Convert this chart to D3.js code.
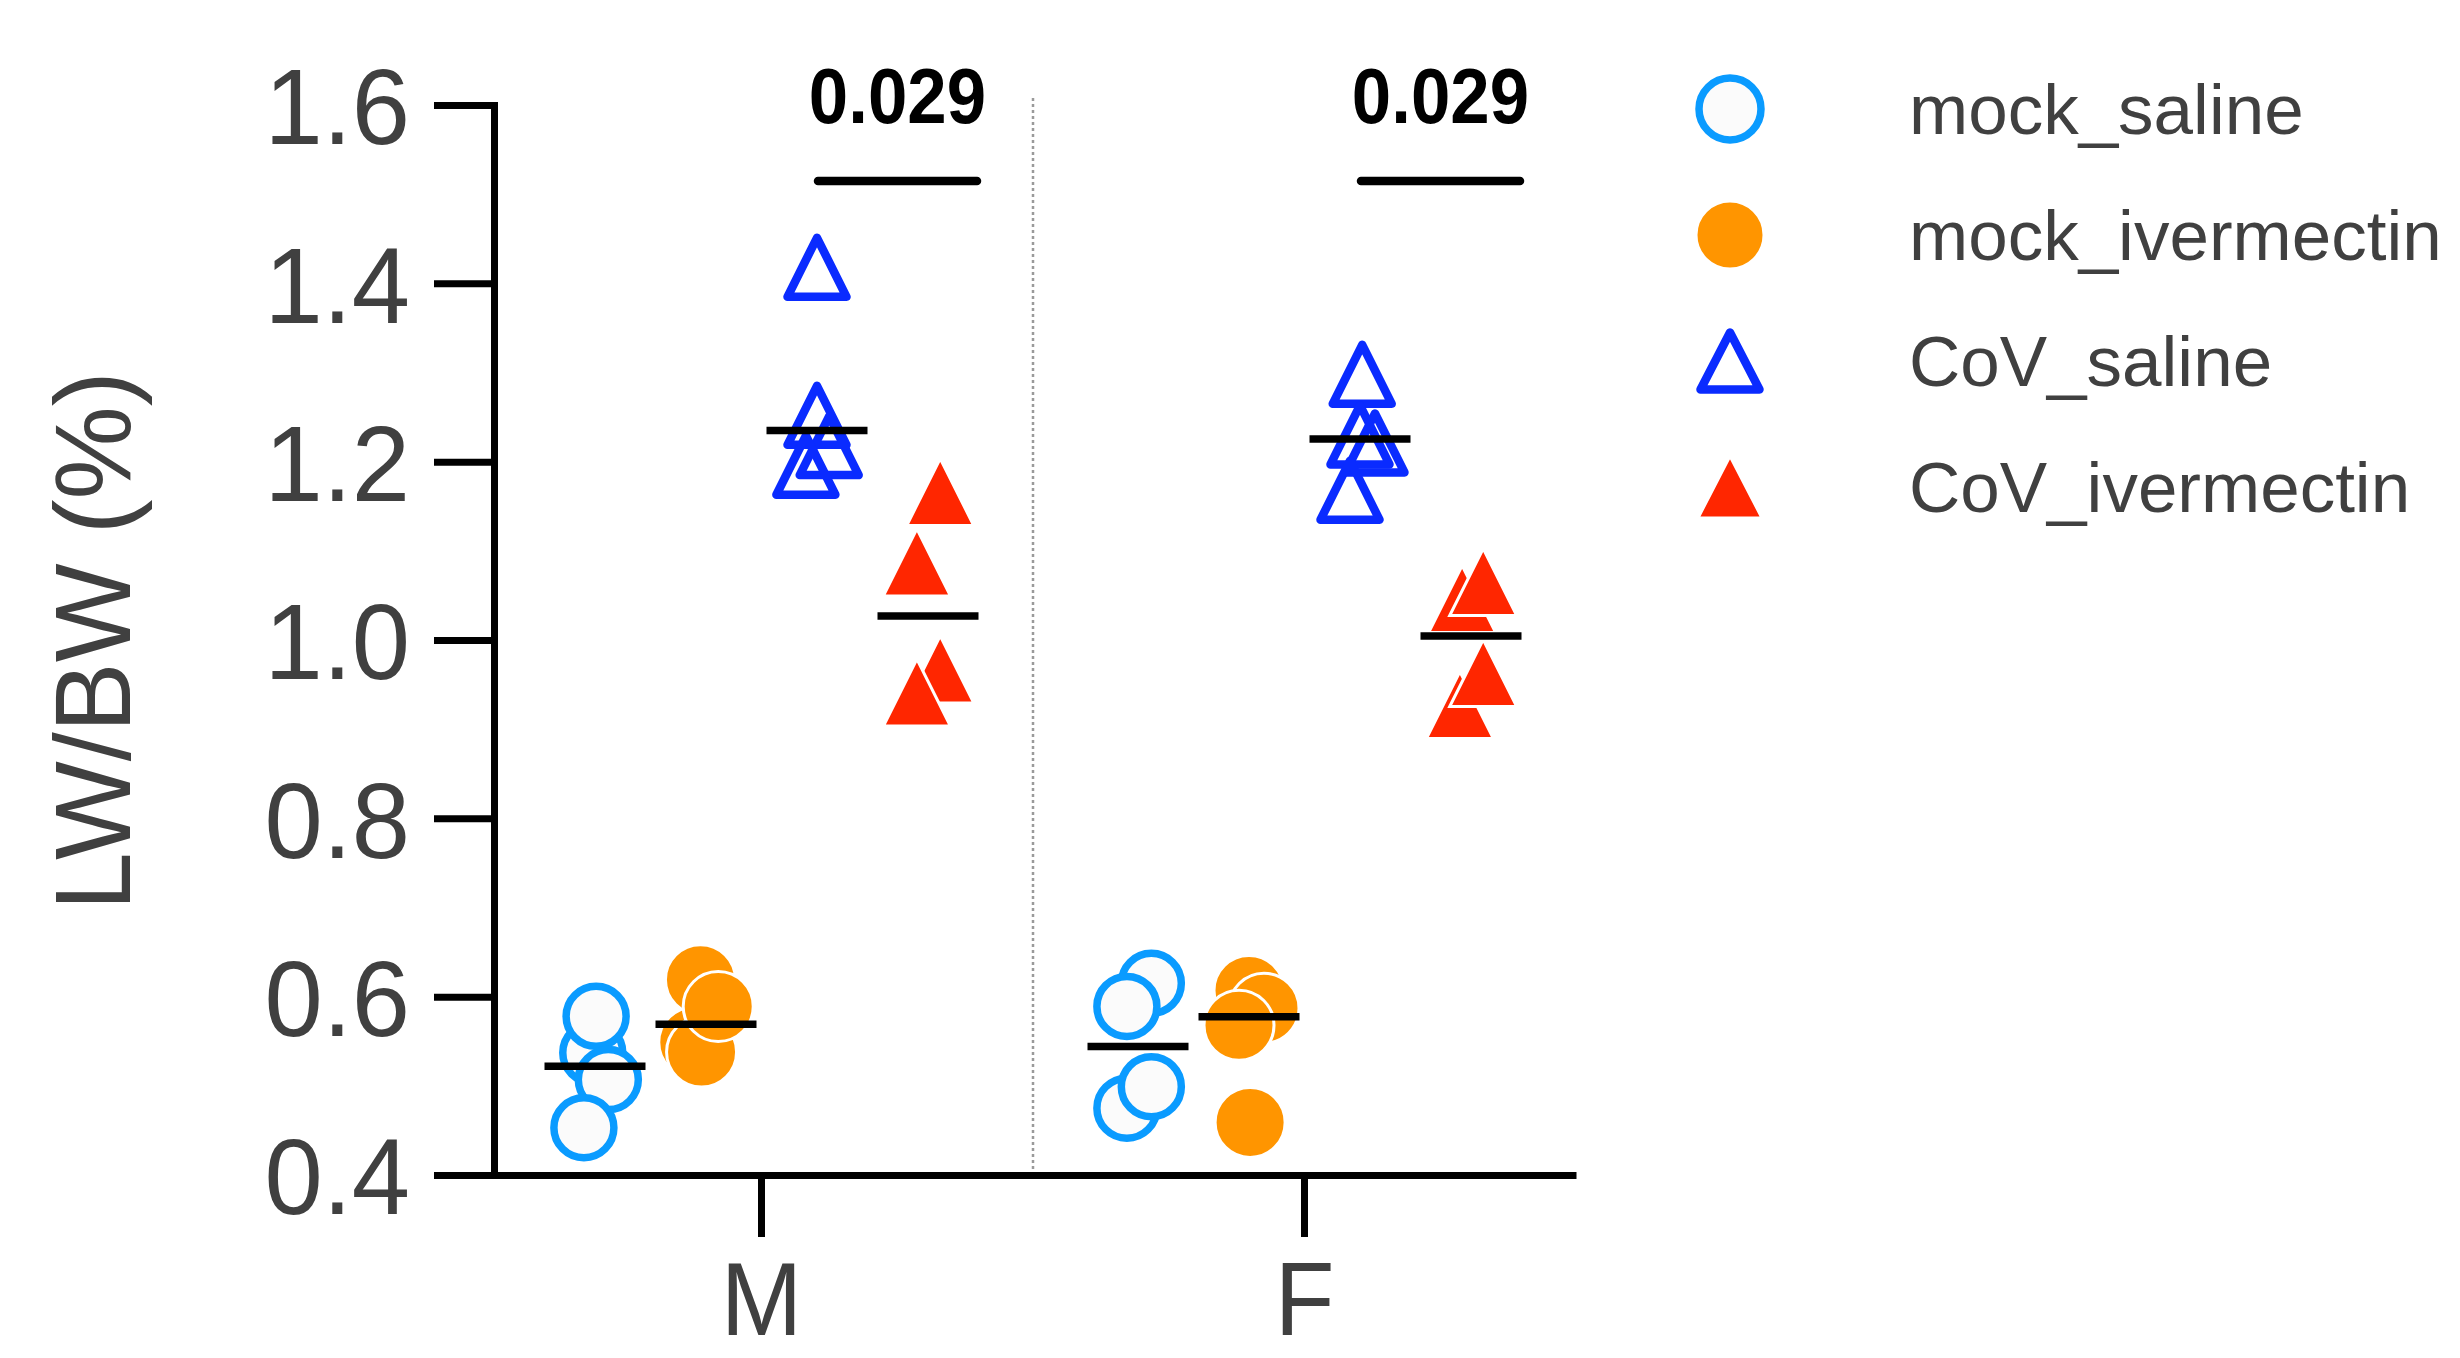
<!DOCTYPE html>
<html><head><meta charset="utf-8">
<script src="https://cdn.jsdelivr.net/npm/d3@7"></script>
<style>html,body{margin:0;padding:0;background:#fff;} svg{display:block;}</style>
</head><body>
<svg id="chart" width="2460" height="1358"></svg>
<script>
// ---------- data ----------
const sexes = ['M', 'F'];
const groups = ['mock_saline', 'mock_ivermectin', 'CoV_saline', 'CoV_ivermectin'];
const yTicks = [0.4, 0.6, 0.8, 1.0, 1.2, 1.4, 1.6];
const yLabel = 'LW/BW (%)';

// LW/BW values (listed in drawing order)
const mock_saline_M     = [0.537, 0.578, 0.507, 0.453];
const mock_ivermectin_M = [0.619, 0.549, 0.538, 0.589];
const CoV_saline_M      = [1.418, 1.252, 1.218, 1.196];
const CoV_ivermectin_M  = [1.166, 1.087, 0.967, 0.941];
const mock_saline_F     = [0.615, 0.589, 0.475, 0.499];
const mock_ivermectin_F = [0.607, 0.587, 0.568, 0.459];
const CoV_saline_F      = [1.298, 1.230, 1.221, 1.168];
const CoV_ivermectin_F  = [1.046, 1.065, 0.927, 0.963];

// horizontal scatter (fraction of a column's width)
const mock_saline_M_jitter     = [-0.02, 0.01, 0.12, -0.10];
const mock_ivermectin_M_jitter = [-0.05, -0.11, -0.04, 0.11];
const CoV_saline_M_jitter      = [0.00, 0.00, 0.11, -0.10];
const CoV_ivermectin_M_jitter  = [0.11, -0.10, 0.11, -0.10];
const mock_saline_F_jitter     = [0.12, -0.10, -0.10, 0.12];
const mock_ivermectin_F_jitter = [0.00, 0.135, -0.09, 0.01];
const CoV_saline_F_jitter      = [0.02, 0.00, 0.135, -0.09];
const CoV_ivermectin_F_jitter  = [-0.08, 0.11, -0.10, 0.11];

const pSex    = ['M', 'F'];
const pFrom   = ['CoV_saline', 'CoV_saline'];
const pTo     = ['CoV_ivermectin', 'CoV_ivermectin'];
const pLabels = ['0.029', '0.029'];

// ---------- table built from arrays ----------
const valueTable = {
  M: {mock_saline: mock_saline_M, mock_ivermectin: mock_ivermectin_M, CoV_saline: CoV_saline_M, CoV_ivermectin: CoV_ivermectin_M},
  F: {mock_saline: mock_saline_F, mock_ivermectin: mock_ivermectin_F, CoV_saline: CoV_saline_F, CoV_ivermectin: CoV_ivermectin_F}
};
const jitterTable = {
  M: {mock_saline: mock_saline_M_jitter, mock_ivermectin: mock_ivermectin_M_jitter, CoV_saline: CoV_saline_M_jitter, CoV_ivermectin: CoV_ivermectin_M_jitter},
  F: {mock_saline: mock_saline_F_jitter, mock_ivermectin: mock_ivermectin_F_jitter, CoV_saline: CoV_saline_F_jitter, CoV_ivermectin: CoV_ivermectin_F_jitter}
};

// ---------- styles ----------
const FONT = '"Liberation Sans", Arial, Helvetica, sans-serif';
const TXT = '#404040';
const style = {
  mock_saline:     {shape: 'circle',   filled: false, color: '#0A9BFF'},
  mock_ivermectin: {shape: 'circle',   filled: true,  color: '#FF9500'},
  CoV_saline:      {shape: 'triangle', filled: false, color: '#0A2BFF'},
  CoV_ivermectin:  {shape: 'triangle', filled: true,  color: '#FF2600'}
};

const svg = d3.select('#chart');
svg.append('rect').attr('width', 2460).attr('height', 1358).attr('fill', '#fff');

const y = d3.scaleLinear().domain([0.4, 1.6]).range([1175, 105]);
const x = d3.scaleBand().domain(sexes).range([490, 1576]).padding(0);
const xSub = d3.scaleBand().domain(groups).range([-222, 222]);
const subW = xSub.bandwidth();
const gxPos = (sex, grp) => x(sex) + x.bandwidth() / 2 + xSub(grp) + subW / 2;

// separator (dotted)
svg.append('line')
  .attr('x1', x('F')).attr('x2', x('F'))
  .attr('y1', y(1.6) - 7).attr('y2', y(0.4))
  .attr('stroke', '#9a9a9a').attr('stroke-width', 2.5)
  .attr('stroke-dasharray', '3,3');

// y axis
const gy = svg.append('g').attr('transform', 'translate(494,0)')
  .call(d3.axisLeft(y).tickValues(yTicks).tickFormat(d3.format('.1f')).tickSize(60).tickSizeOuter(0));
gy.select('.domain').attr('stroke', '#000').attr('stroke-width', 7).attr('stroke-linecap', 'square');
gy.selectAll('.tick line').attr('stroke', '#000').attr('stroke-width', 7);
gy.selectAll('.tick text')
  .attr('font-family', FONT).attr('font-size', 108).attr('fill', TXT)
  .attr('x', -84 / 0.97).attr('dy', '0.36em')
  .attr('transform', 'scale(0.97,1)');

// x axis
const gxA = svg.append('g').attr('transform', 'translate(0,1175)')
  .call(d3.axisBottom(x).tickSize(62).tickSizeOuter(0));
gxA.select('.domain').attr('stroke', '#000').attr('stroke-width', 7);
gxA.selectAll('.tick line').attr('stroke', '#000').attr('stroke-width', 7);
gxA.selectAll('.tick text')
  .attr('font-family', FONT).attr('font-size', 104).attr('fill', TXT)
  .attr('y', 160).attr('dy', 0)
  .attr('transform', 'scale(0.94,1)');

// y label
svg.append('text')
  .attr('transform', 'translate(130,641) rotate(-90) scale(0.97,1)')
  .attr('text-anchor', 'middle')
  .attr('font-family', FONT).attr('font-size', 108).attr('fill', TXT)
  .text(yLabel);

// symbols
const tri = (w, h) => `M0,${-h / 2}L${w / 2},${h / 2}L${-w / 2},${h / 2}Z`;
function drawSymbol(sel, grp, cx, cy, legend) {
  const s = style[grp];
  if (s.shape === 'circle') {
    if (s.filled) {
      sel.append('circle').attr('cx', cx).attr('cy', cy).attr('r', legend ? 34 : 35)
        .attr('fill', s.color).attr('stroke', '#fff').attr('stroke-width', 3);
    } else {
      sel.append('circle').attr('cx', cx).attr('cy', cy).attr('r', legend ? 31 : 30)
        .attr('fill', '#fbfbfb').attr('stroke', s.color).attr('stroke-width', 7.5);
    }
  } else {
    if (s.filled) {
      sel.append('path').attr('d', tri(legend ? 64 : 67, legend ? 62 : 67))
        .attr('transform', `translate(${cx},${cy})`)
        .attr('fill', s.color).attr('stroke', '#fff').attr('stroke-width', 3);
    } else {
      sel.append('path').attr('d', tri(59, legend ? 57 : 59))
        .attr('transform', `translate(${cx},${cy})`)
        .attr('fill', 'none').attr('stroke', s.color).attr('stroke-width', 8.5)
        .attr('stroke-linejoin', 'round');
    }
  }
}

const gPts = svg.append('g');
sexes.forEach(sex => {
  groups.forEach(grp => {
    const vals = valueTable[sex][grp];
    const jit = jitterTable[sex][grp];
    const g = gPts.append('g');
    vals.forEach((v, i) => drawSymbol(g, grp, gxPos(sex, grp) + jit[i] * subW, y(v), false));
  });
});

// medians
const gMed = svg.append('g');
sexes.forEach(sex => {
  groups.forEach(grp => {
    const m = d3.median(valueTable[sex][grp]);
    const cx = gxPos(sex, grp);
    gMed.append('line')
      .attr('x1', cx - 50.5).attr('x2', cx + 50.5)
      .attr('y1', y(m)).attr('y2', y(m))
      .attr('stroke', '#000').attr('stroke-width', 7.5);
  });
});

// significance annotations
pLabels.forEach((lab, i) => {
  const x1 = gxPos(pSex[i], pFrom[i]) - 3;
  const x2 = gxPos(pSex[i], pTo[i]) + 53;
  const by = y(1.6) + 76;
  svg.append('line')
    .attr('x1', x1 + 4).attr('x2', x2 - 4).attr('y1', by).attr('y2', by)
    .attr('stroke', '#000').attr('stroke-width', 8.5).attr('stroke-linecap', 'round');
  svg.append('text')
    .attr('transform', 'scale(0.92,1)')
    .attr('x', ((x1 + x2) / 2) / 0.92).attr('y', by - 58)
    .attr('text-anchor', 'middle')
    .attr('font-family', FONT).attr('font-weight', 'bold').attr('font-size', 77).attr('fill', '#000')
    .text(lab);
});

// legend
const gLeg = svg.append('g');
groups.forEach((grp, i) => {
  const cy = 109 + i * 126;
  drawSymbol(gLeg, grp, 1730, cy, true);
  gLeg.append('text')
    .attr('x', 1909).attr('y', cy + 25)
    .attr('font-family', FONT).attr('font-size', 71).attr('fill', TXT)
    .text(grp);
});
</script>
</body></html>
